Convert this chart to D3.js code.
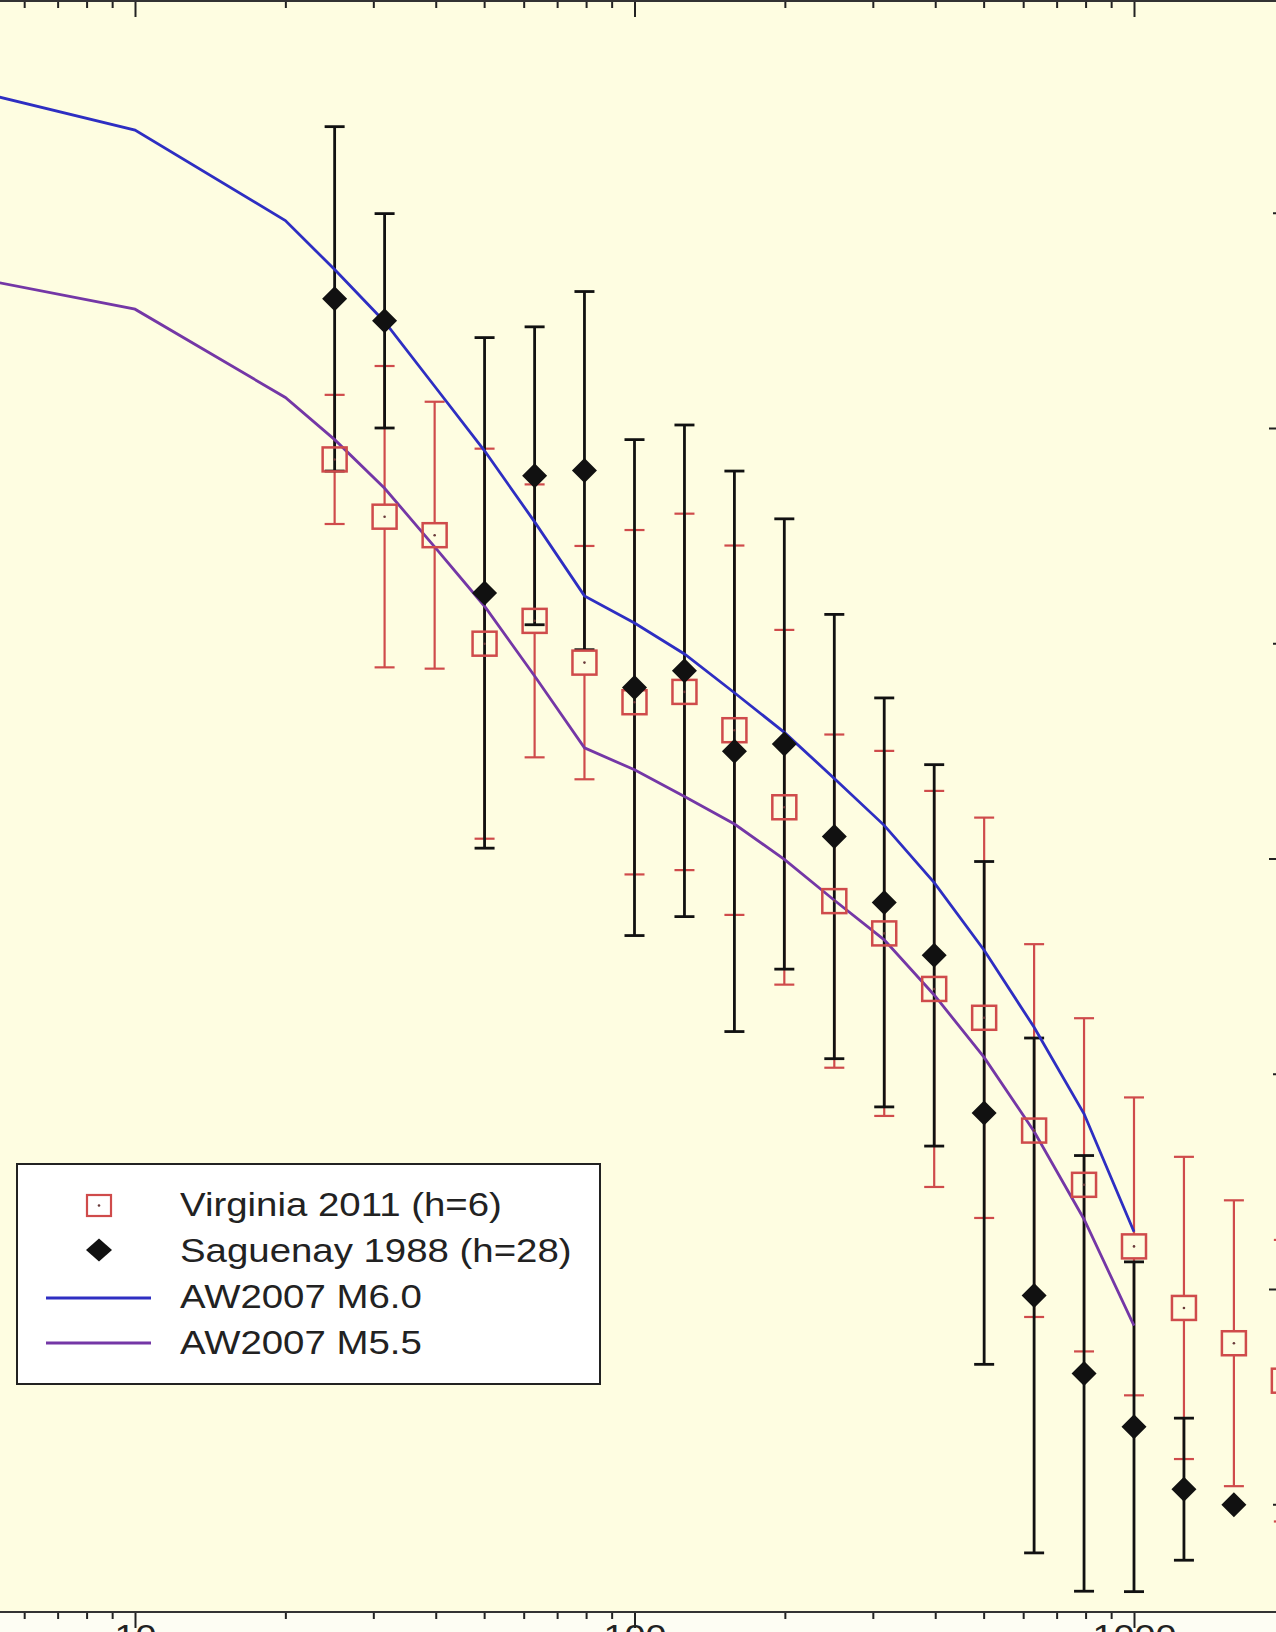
<!DOCTYPE html>
<html>
<head>
<meta charset="utf-8">
<script src="https://cdn.jsdelivr.net/npm/d3@7"></script>
<style>
body { margin: 0; background: #fdfdf3; }
svg { display: block; font-family: "Liberation Sans", Arial, sans-serif; }
</style>
</head>
<body>
<svg id="chart" width="1276" height="1632"></svg>
<script>
// distance bins (km), 0.1 log-unit steps
let binDist = [25.1, 31.6, 39.8, 50.1, 63.1, 79.4, 100, 125.9, 158.5, 199.5, 251.2, 316.2, 398.1, 501.2, 631.0, 794.3, 1000, 1258.9, 1584.9, 1995.3];
// Virginia 2011 (h=6): log10 amplitude and +/- error
let virginiaVal = [1.927, 1.794, 1.751, 1.499, 1.552, 1.455, 1.363, 1.387, 1.298, 1.119, 0.901, 0.826, 0.697, 0.630, 0.368, 0.242, 0.099, -0.044, -0.126, -0.213];
let virginiaErr = [0.150, 0.350, 0.310, 0.453, 0.317, 0.271, 0.400, 0.414, 0.429, 0.412, 0.387, 0.424, 0.460, 0.465, 0.433, 0.387, 0.346, 0.351, 0.332, 0.327];
// Saguenay 1988 (h=28)
let saguenayDist = [25.1, 31.6, 50.1, 63.1, 79.4, 100, 125.9, 158.5, 199.5, 251.2, 316.2, 398.1, 501.2, 631.0, 794.3, 1000, 1258.9, 1584.9];
let saguenayVal = [2.300, 2.249, 1.617, 1.889, 1.901, 1.397, 1.436, 1.249, 1.266, 1.051, 0.898, 0.775, 0.409, -0.015, -0.196, -0.320, -0.465, -0.501];
let saguenayErr = [0.400, 0.249, 0.593, 0.346, 0.416, 0.576, 0.571, 0.651, 0.523, 0.516, 0.475, 0.443, 0.584, 0.598, 0.506, 0.383, 0.165, 0];
// AW2007 model curves
let modelDist = [5, 10, 20, 25.1, 31.6, 39.8, 50.1, 63.1, 79.4, 100, 125.9, 158.5, 199.5, 251.2, 316.2, 398.1, 501.2, 631.0, 794.3, 1000];
let aw60 = [2.777, 2.692, 2.482, 2.368, 2.247, 2.097, 1.947, 1.782, 1.610, 1.547, 1.475, 1.385, 1.293, 1.186, 1.077, 0.944, 0.787, 0.608, 0.407, 0.133];
let aw55 = [2.344, 2.276, 2.071, 1.973, 1.860, 1.724, 1.586, 1.424, 1.257, 1.206, 1.144, 1.080, 0.998, 0.903, 0.811, 0.683, 0.538, 0.366, 0.162, -0.085];
let xMajor = [10, 100, 1000];
let xMinor = [6, 7, 8, 9, 20, 30, 40, 50, 60, 70, 80, 90, 200, 300, 400, 500, 600, 700, 800, 900];
let yMajor = [0, 1, 2];
let yMinor = [-0.5, 0.5, 1.5, 2.5];
let legendLabels = ['Virginia 2011 (h=6)', 'Saguenay 1988 (h=28)', 'AW2007 M6.0', 'AW2007 M5.5'];

let red = '#cf4b4b', blue = '#2e2ec2', purple = '#7437a6';
let plotTop = 1, plotBottom = 1612, plotRight = 1281;
let stretch = 'scale(1.18,1)';
let sq = 12; // half size of the squares

let svg = d3.select('#chart');

let x = d3.scaleLog().domain([10, 1000]).range([135, 1134]);
let y = d3.scaleLinear().domain([0, 2]).range([1289, 428]);

svg.append('rect')
    .attr('x', -5).attr('y', plotTop)
    .attr('width', plotRight + 5).attr('height', plotBottom - plotTop)
    .attr('fill', '#fefde1');

svg.append('clipPath').attr('id', 'plot')
    .append('rect')
    .attr('x', -5).attr('y', plotTop)
    .attr('width', plotRight + 5).attr('height', plotBottom - plotTop);

// axes
function tidy(g) {
    g.select('.domain').remove();
    g.selectAll('.tick line').attr('stroke', '#222').attr('stroke-width', 2);
}

svg.append('g')
    .attr('transform', `translate(0,${plotBottom})`)
    .call(d3.axisBottom(x).tickValues(xMajor).tickSize(16).tickPadding(-4).tickFormat(d3.format('d')))
    .call(tidy)
    .call(g => g.selectAll('text')
        .attr('font-size', 32).attr('fill', '#222')
        .attr('font-family', '"Liberation Sans", Arial, sans-serif')
        .attr('transform', stretch));

svg.append('g')
    .attr('transform', `translate(0,${plotBottom})`)
    .call(d3.axisBottom(x).tickValues(xMinor).tickSize(7).tickFormat(''))
    .call(tidy);

svg.append('g')
    .attr('transform', `translate(0,${plotTop})`)
    .call(d3.axisBottom(x).tickValues(xMajor).tickSize(16).tickFormat(''))
    .call(tidy);

svg.append('g')
    .attr('transform', `translate(0,${plotTop})`)
    .call(d3.axisBottom(x).tickValues(xMinor).tickSize(7).tickFormat(''))
    .call(tidy);

svg.append('g')
    .attr('transform', `translate(${plotRight},0)`)
    .call(d3.axisLeft(y).tickValues(yMajor).tickSize(12).tickFormat(''))
    .call(tidy);

svg.append('g')
    .attr('transform', `translate(${plotRight},0)`)
    .call(d3.axisLeft(y).tickValues(yMinor).tickSize(8).tickFormat(''))
    .call(tidy);

svg.append('line')
    .attr('x1', 0).attr('x2', 1276).attr('y1', plotBottom).attr('y2', plotBottom)
    .attr('stroke', '#333').attr('stroke-width', 2);
svg.append('line')
    .attr('x1', 0).attr('x2', 1276).attr('y1', plotTop).attr('y2', plotTop)
    .attr('stroke', '#333').attr('stroke-width', 2);

let plot = svg.append('g').attr('clip-path', 'url(#plot)');

// Virginia error bars (split around the square)
let virginia = binDist.map((d, i) => ({d: d, v: virginiaVal[i], e: virginiaErr[i]}));
let vBars = plot.selectAll('.vbar').data(virginia).enter().append('g')
    .attr('stroke', red).attr('stroke-width', 2.2);
vBars.append('line')
    .attr('x1', d => x(d.d)).attr('x2', d => x(d.d))
    .attr('y1', d => y(d.v + d.e)).attr('y2', d => y(d.v) - sq);
vBars.append('line')
    .attr('x1', d => x(d.d)).attr('x2', d => x(d.d))
    .attr('y1', d => y(d.v) + sq).attr('y2', d => y(d.v - d.e));
vBars.append('line')
    .attr('x1', d => x(d.d) - 10).attr('x2', d => x(d.d) + 10)
    .attr('y1', d => y(d.v + d.e)).attr('y2', d => y(d.v + d.e));
vBars.append('line')
    .attr('x1', d => x(d.d) - 10).attr('x2', d => x(d.d) + 10)
    .attr('y1', d => y(d.v - d.e)).attr('y2', d => y(d.v - d.e));

// Saguenay error bars
let saguenay = saguenayDist.map((d, i) => ({d: d, v: saguenayVal[i], e: saguenayErr[i]}));
let sBars = plot.selectAll('.sbar').data(saguenay.filter(d => d.e > 0)).enter().append('g')
    .attr('stroke', '#111').attr('stroke-width', 2.8);
sBars.append('line')
    .attr('x1', d => x(d.d)).attr('x2', d => x(d.d))
    .attr('y1', d => y(d.v + d.e)).attr('y2', d => y(d.v - d.e));
sBars.append('line')
    .attr('x1', d => x(d.d) - 10).attr('x2', d => x(d.d) + 10)
    .attr('y1', d => y(d.v + d.e)).attr('y2', d => y(d.v + d.e));
sBars.append('line')
    .attr('x1', d => x(d.d) - 10).attr('x2', d => x(d.d) + 10)
    .attr('y1', d => y(d.v - d.e)).attr('y2', d => y(d.v - d.e));

// model curves
let line = d3.line().x(d => x(d[0])).y(d => y(d[1]));
plot.append('path')
    .datum(modelDist.map((d, i) => [d, aw55[i]]))
    .attr('d', line).attr('fill', 'none')
    .attr('stroke', purple).attr('stroke-width', 2.8);
plot.append('path')
    .datum(modelDist.map((d, i) => [d, aw60[i]]))
    .attr('d', line).attr('fill', 'none')
    .attr('stroke', blue).attr('stroke-width', 2.8);

// squares
plot.selectAll('.sq').data(virginia).enter().append('rect')
    .attr('x', d => x(d.d) - sq).attr('y', d => y(d.v) - sq)
    .attr('width', sq * 2).attr('height', sq * 2)
    .attr('fill', 'none').attr('stroke', red).attr('stroke-width', 2.5);
plot.selectAll('.dot').data(virginia).enter().append('circle')
    .attr('cx', d => x(d.d)).attr('cy', d => y(d.v)).attr('r', 1.3)
    .attr('fill', '#6a3a3a');

// diamonds
plot.selectAll('.dia').data(saguenay).enter().append('path')
    .attr('transform', d => `translate(${x(d.d)},${y(d.v)})`)
    .attr('d', 'M0,-12.5L12.5,0L0,12.5L-12.5,0Z')
    .attr('fill', '#111');

// legend
let legend = svg.append('g');
legend.append('rect')
    .attr('x', 17).attr('y', 1164).attr('width', 583).attr('height', 220)
    .attr('fill', '#ffffff').attr('stroke', '#222').attr('stroke-width', 2);

legend.selectAll('.lt').data(legendLabels).enter().append('text')
    .attr('transform', (d, i) => `translate(180,${1216 + i * 46}) scale(1.2,1.03)`)
    .attr('font-size', 32).attr('fill', '#222')
    .text(d => d);

legend.append('rect')
    .attr('x', 87).attr('y', 1195).attr('width', 24).attr('height', 21)
    .attr('fill', 'none').attr('stroke', red).attr('stroke-width', 2.2);
legend.append('circle')
    .attr('cx', 99).attr('cy', 1205.5).attr('r', 1.3).attr('fill', '#6a3a3a');
legend.append('path')
    .attr('transform', 'translate(99,1250)')
    .attr('d', 'M0,-11.5L13,0L0,11.5L-13,0Z')
    .attr('fill', '#111');
legend.append('line')
    .attr('x1', 46).attr('x2', 151).attr('y1', 1298).attr('y2', 1298)
    .attr('stroke', blue).attr('stroke-width', 2.8);
legend.append('line')
    .attr('x1', 46).attr('x2', 151).attr('y1', 1343).attr('y2', 1343)
    .attr('stroke', purple).attr('stroke-width', 2.8);
</script>
</body>
</html>
